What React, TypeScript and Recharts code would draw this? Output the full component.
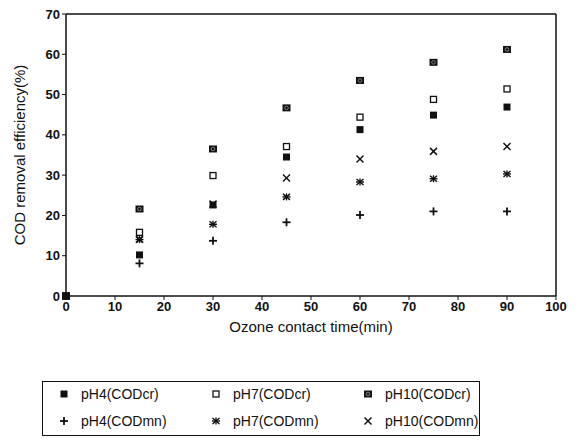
import React from 'react';
import { ScatterChart, Scatter, XAxis, YAxis, ReferenceLine } from 'recharts';

const times = [0, 15, 30, 45, 60, 75, 90];

const pH4Cr = [0, 10.2, 22.6, 34.5, 41.3, 44.9, 46.9];
const pH7Cr = [0, 15.8, 29.9, 37.1, 44.4, 48.8, 51.4];
const pH10Cr = [0, 21.6, 36.5, 46.7, 53.5, 58.0, 61.2];
const pH4Mn = [0, 8.1, 13.7, 18.3, 20.1, 21.0, 21.0];
const pH7Mn = [0, 14.0, 17.8, 24.6, 28.3, 29.1, 30.3];
const pH10Mn = [0, 14.1, 22.8, 29.3, 34.0, 35.9, 37.1];

const xTicks = [0, 10, 20, 30, 40, 50, 60, 70, 80, 90, 100];
const yTicks = [0, 10, 20, 30, 40, 50, 60, 70];

type Kind = 'fill' | 'open' | 'pattern' | 'plus' | 'star' | 'cross';

const toPoints = (vals: number[]) => times.map((t, i) => ({ x: t, y: vals[i] }));

const Marker = ({ kind, cx, cy }: { kind: Kind; cx: number; cy: number }) => {
  const s = 3.5;
  switch (kind) {
    case 'fill':
      return <rect x={cx - s} y={cy - s} width={2 * s} height={2 * s} fill="#111" />;
    case 'open':
      return (
        <rect x={cx - s + 0.5} y={cy - s + 0.5} width={2 * s - 1} height={2 * s - 1} fill="#fff" stroke="#111" strokeWidth={1.3} />
      );
    case 'pattern':
      return (
        <g>
          <rect x={cx - s - 0.5} y={cy - s} width={2 * s + 1} height={2 * s} fill="#111" />
          <circle cx={cx} cy={cy} r={1.8} fill="none" stroke="#999" strokeWidth={0.8} />
        </g>
      );
    case 'plus':
      return (
        <g stroke="#111" strokeWidth={1.8}>
          <line x1={cx - 4} y1={cy} x2={cx + 4} y2={cy} />
          <line x1={cx} y1={cy - 4} x2={cx} y2={cy + 4} />
        </g>
      );
    case 'star':
      return (
        <g stroke="#111" strokeWidth={1.4}>
          <line x1={cx - 4} y1={cy} x2={cx + 4} y2={cy} />
          <line x1={cx - 3.5} y1={cy - 3} x2={cx + 3.5} y2={cy + 3} />
          <line x1={cx - 3.5} y1={cy + 3} x2={cx + 3.5} y2={cy - 3} />
          <line x1={cx} y1={cy - 3.5} x2={cx} y2={cy + 3.5} />
        </g>
      );
    case 'cross':
      return (
        <g stroke="#111" strokeWidth={1.5}>
          <line x1={cx - 3.5} y1={cy - 3.5} x2={cx + 3.5} y2={cy + 3.5} />
          <line x1={cx - 3.5} y1={cy + 3.5} x2={cx + 3.5} y2={cy - 3.5} />
        </g>
      );
  }
  return null;
};

const series: { name: string; vals: number[]; kind: Kind }[] = [
  { name: 'pH4(CODmn)', vals: pH4Mn, kind: 'plus' },
  { name: 'pH7(CODmn)', vals: pH7Mn, kind: 'star' },
  { name: 'pH10(CODmn)', vals: pH10Mn, kind: 'cross' },
  { name: 'pH10(CODcr)', vals: pH10Cr, kind: 'pattern' },
  { name: 'pH7(CODcr)', vals: pH7Cr, kind: 'open' },
  { name: 'pH4(CODcr)', vals: pH4Cr, kind: 'fill' },
];

const legendRows: { name: string; kind: Kind }[][] = [
  [
    { name: 'pH4(CODcr)', kind: 'fill' },
    { name: 'pH7(CODcr)', kind: 'open' },
    { name: 'pH10(CODcr)', kind: 'pattern' },
  ],
  [
    { name: 'pH4(CODmn)', kind: 'plus' },
    { name: 'pH7(CODmn)', kind: 'star' },
    { name: 'pH10(CODmn)', kind: 'cross' },
  ],
];

const font = 'Arial, "Liberation Sans", sans-serif';

const tickStyle = { fill: '#111', fontSize: 13, fontWeight: 700, fontFamily: font };

export default function App() {
  return (
    <div style={{ position: 'absolute', left: 0, top: 0, width: 579, height: 445, background: '#fff', fontFamily: font }}>
      <ScatterChart width={579} height={445} margin={{ top: 14, right: 23, bottom: 119, left: 26 }}>
        <XAxis
          type="number"
          dataKey="x"
          domain={[0, 100]}
          ticks={xTicks}
          tick={tickStyle}
          tickSize={4}
          height={30}
          axisLine={{ stroke: '#111', strokeWidth: 1.5 }}
          tickLine={{ stroke: '#111' }}
          label={{ value: 'Ozone contact time(min)', position: 'insideBottom', offset: -6, style: { fill: '#111', fontSize: 15, fontFamily: font } }}
        />
        <YAxis
          type="number"
          dataKey="y"
          domain={[0, 70]}
          ticks={yTicks}
          tick={tickStyle}
          tickSize={4}
          width={40}
          axisLine={{ stroke: '#111', strokeWidth: 1.5 }}
          tickLine={{ stroke: '#111' }}
          label={{ value: 'COD removal efficiency(%)', angle: -90, position: 'insideLeft', offset: -6, style: { textAnchor: 'middle', fill: '#111', fontSize: 15, fontFamily: font } }}
        />
        <ReferenceLine y={70} stroke="#111" strokeWidth={1.5} />
        <ReferenceLine x={100} stroke="#111" strokeWidth={1.5} />
        {series.map((s) => (
          <Scatter
            key={s.name}
            name={s.name}
            data={toPoints(s.vals)}
            isAnimationActive={false}
            shape={(p: any) => <Marker kind={s.kind} cx={p.cx} cy={p.cy} />}
          />
        ))}
      </ScatterChart>
      <div
        style={{
          position: 'absolute',
          left: 42,
          top: 381,
          width: 438,
          height: 55,
          border: '1.5px solid #111',
          boxSizing: 'border-box',
          fontSize: 14,
          color: '#111',
        }}
      >
        {legendRows.map((row, r) => (
          <div key={r} style={{ position: 'absolute', top: r === 0 ? 4 : 31, left: 0, height: 18, width: '100%' }}>
            {row.map((item, c) => (
              <div key={item.name} style={{ position: 'absolute', left: 14 + c * 152, top: 0, display: 'flex', alignItems: 'center' }}>
                <svg width={14} height={14} style={{ marginRight: 10 }}>
                  <Marker kind={item.kind} cx={7} cy={7} />
                </svg>
                <span>{item.name}</span>
              </div>
            ))}
          </div>
        ))}
      </div>
    </div>
  );
}
